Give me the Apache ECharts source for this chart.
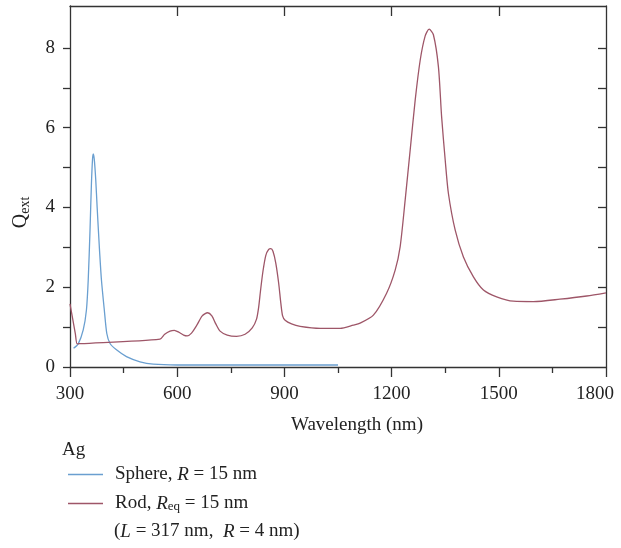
<!DOCTYPE html>
<html>
<head>
<meta charset="utf-8">
<script src="https://cdn.jsdelivr.net/npm/echarts@6/dist/echarts.min.js"></script>
<style>html,body{margin:0;padding:0;background:#fff}#c{width:621px;height:548px}</style>
</head>
<body>
<div id="c"></div>
<script>
// ---- data ----
const xTicks = [300, 600, 900, 1200, 1500, 1800];
const yTicks = [0, 2, 4, 6, 8];
const sphere = [[310,0.47],[323,0.58],[337,0.93],[346,1.43],[351,2.18],[356,3.43],[360,4.6],[363,5.2],[365,5.34],[368,5.2],[372,4.7],[376,4.0],[382,3.02],[388,2.18],[396,1.43],[403,0.84],[412,0.59],[430,0.43],[458,0.26],[496,0.13],[533,0.07],[600,0.05],[800,0.05],[1050,0.05]];
const rod = [[300,1.58],[305,1.33],[310,1.08],[315,0.83],[320,0.58],[330,0.585],[552,0.70],[565,0.82],[580,0.9],[592,0.92],[605,0.87],[618,0.8],[628,0.78],[640,0.85],[655,1.05],[670,1.28],[685,1.36],[697,1.28],[708,1.08],[720,0.9],[740,0.8],[766,0.77],[790,0.82],[810,0.98],[822,1.2],[828,1.5],[833,1.9],[840,2.4],[848,2.8],[856,2.95],[862,2.97],[868,2.9],[876,2.6],[884,2.1],[890,1.6],[895,1.28],[902,1.17],[920,1.08],[944,1.02],[1000,0.97],[1056,0.97],[1093,1.05],[1112,1.1],[1149,1.3],[1186,1.85],[1210,2.43],[1224,3.02],[1238,4.19],[1252,5.44],[1266,6.69],[1280,7.69],[1294,8.3],[1305,8.47],[1317,8.33],[1331,7.53],[1340,6.27],[1350,5.19],[1359,4.35],[1378,3.43],[1401,2.76],[1429,2.26],[1457,1.93],[1494,1.76],[1541,1.65],[1597,1.64],[1671,1.7],[1746,1.78],[1800,1.86]];
const seriesNames = ['Sphere', 'Rod'];

const F = '"Liberation Serif", "Times New Roman", serif';
const AX = '#333';
const chart = echarts.init(document.getElementById('c'));
const rich = {
  n: {fontFamily: F, fontSize: 19, fontWeight: 'normal', color: '#222'},
  i: {fontFamily: F, fontSize: 19, fontWeight: 'normal', fontStyle: 'italic', color: '#222'},
  s: {fontFamily: F, fontSize: 13, fontWeight: 'normal', color: '#222', verticalAlign: 'bottom', lineHeight: 6}
};
chart.setOption({
  animation: false,
  title: [
    {text: 'Ag', left: 62, top: 441, textStyle: {fontFamily: F, fontSize: 19, fontWeight: 'normal', color: '#222'}, padding: 0},
    {text: '{n|(}{i|L}{n| = 317 nm,  }{i|R}{n| = 4 nm)}', left: 114, top: 522, padding: 0, textStyle: {fontWeight: 'normal', rich: rich}}
  ],
  legend: [
    {data: [seriesNames[0]], left: 68, top: 465, padding: 0, orient: 'vertical', icon: 'rect', itemWidth: 35, itemHeight: 1.3,
     textStyle: {fontFamily: F, fontSize: 19, color: '#222', padding: [0,0,0,7], rich: rich},
     formatter: () => '{n|Sphere, }{i|R}{n| = 15 nm}'},
    {data: [seriesNames[1]], left: 68, top: 494, padding: 0, orient: 'vertical', icon: 'rect', itemWidth: 35, itemHeight: 1.3,
     textStyle: {fontFamily: F, fontSize: 19, color: '#222', padding: [0,0,0,7], rich: rich},
     formatter: () => '{n|Rod, }{i|R}{s|eq}{n| = 15 nm}'}
  ],
  grid: {left: 70, right: 15, top: 6, bottom: 181, containLabel: false, outerBoundsMode: 'none'},
  xAxis: [
    {type: 'value', position: 'bottom', min: 300, max: 1800, interval: 300,
     axisLine: {show: true, lineStyle: {color: AX, width: 1.3}},
     axisTick: {show: true, inside: false, length: 10, lineStyle: {color: AX, width: 1.3}},
     minorTick: {show: true, splitNumber: 2, length: 6, lineStyle: {color: AX, width: 1.3}},
     splitLine: {show: false},
     axisLabel: {margin: 18, fontFamily: F, fontSize: 19, color: '#222', customValues: xTicks,
       formatter: v => v === 1800 ? '{r|' + v + '}' : String(v),
       rich: {r: {fontFamily: F, fontSize: 19, color: '#222', padding: [0, 22, 0, 0]}}},
     name: 'Wavelength (nm)', nameLocation: 'middle', nameGap: 49,
     nameTextStyle: {fontFamily: F, fontSize: 19, color: '#222', padding: [0,0,0,38]}},
    {type: 'value', position: 'top', min: 300, max: 1800, interval: 300,
     axisLine: {show: true, onZero: false, lineStyle: {color: AX, width: 1.3}},
     axisTick: {show: true, inside: true, length: 10, customValues: [600, 900, 1200, 1500], lineStyle: {color: AX, width: 1.3}},
     splitLine: {show: false}, axisLabel: {show: false}}
  ],
  yAxis: [
    {type: 'value', position: 'left', min: 0, max: 9.05,
     axisLine: {show: true, lineStyle: {color: AX, width: 1.3}},
     axisTick: {show: true, inside: false, length: 7, customValues: [0,1,2,3,4,5,6,7,8], lineStyle: {color: AX, width: 1.3}},
     splitLine: {show: false},
     axisLabel: {margin: 15, fontFamily: F, fontSize: 19, color: '#222', customValues: yTicks, formatter: v => String(v)},
     name: '{q|Q}{s|ext}', nameLocation: 'middle', nameGap: 38, nameRotate: 90,
     nameTextStyle: {padding: [0, 52, 0, 0], rich: {q: {fontFamily: F, fontSize: 20, color: '#222', lineHeight: 22}, s: {fontFamily: F, fontSize: 14, color: '#222', verticalAlign: 'bottom', lineHeight: 10}}}},
    {type: 'value', position: 'right', min: 0, max: 9.05,
     axisLine: {show: true, onZero: false, lineStyle: {color: AX, width: 1.3}},
     axisTick: {show: true, inside: true, length: 8, customValues: [1,2,3,4,5,6,7,8], lineStyle: {color: AX, width: 1.3}},
     splitLine: {show: false}, axisLabel: {show: false}}
  ],
  series: [
    {name: seriesNames[0], type: 'line', data: sphere, symbol: 'none', smooth: 0.25,
     lineStyle: {color: '#6a9fd0', width: 1.3}, itemStyle: {color: '#6a9fd0'}},
    {name: seriesNames[1], type: 'line', data: rod, symbol: 'none', smooth: 0.25,
     lineStyle: {color: '#9e5668', width: 1.3}, itemStyle: {color: '#9e5668'}}
  ]
});
</script>
</body>
</html>
